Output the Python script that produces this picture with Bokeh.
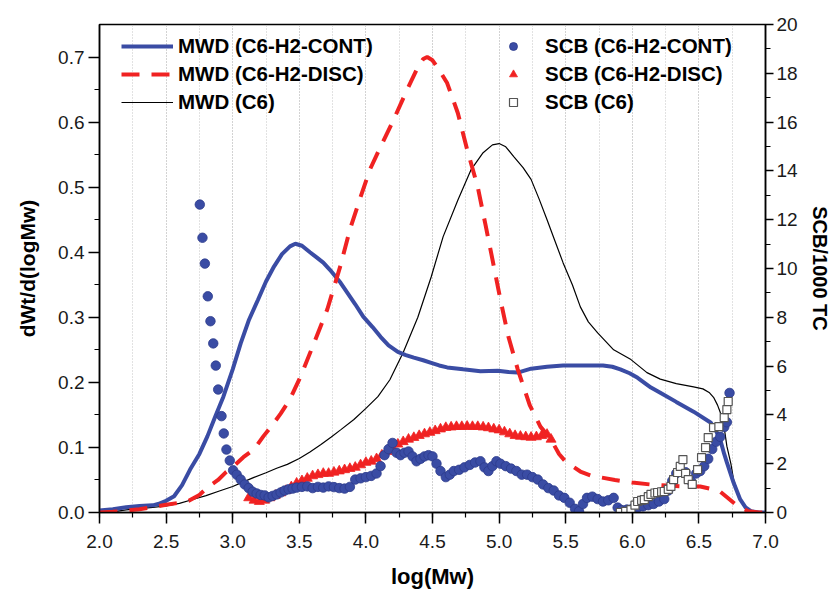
from bokeh.plotting import figure
from bokeh.models import (Range1d, LinearAxis, SingleIntervalTicker, Legend,
                          LegendItem, NumeralTickFormatter)
from bokeh.embed import file_html
from bokeh.resources import INLINE

FONT = "Liberation Sans"

# ---------------- data ----------------
# MWD curves: log(Mw) vs dWt/d(logMw)
mwd_cont_x = [2.0, 2.1, 2.2, 2.3, 2.4, 2.44, 2.5, 2.56, 2.62, 2.68, 2.75, 2.81, 2.87,
              2.93, 3.0, 3.06, 3.12, 3.19, 3.25, 3.31, 3.37, 3.43, 3.47, 3.52, 3.58,
              3.63, 3.68, 3.73, 3.81, 3.86, 3.92, 3.98, 4.05, 4.11, 4.17, 4.24, 4.30,
              4.36, 4.43, 4.49, 4.55, 4.61, 4.73, 4.86, 4.99, 5.07, 5.14, 5.24, 5.36,
              5.48, 5.6, 5.78, 5.85, 5.91, 5.98, 6.04, 6.14, 6.21, 6.33, 6.46, 6.59,
              6.63, 6.66, 6.69, 6.71, 6.76, 6.81, 6.85, 6.89, 6.95, 7.0]
mwd_cont_y = [0.003, 0.005, 0.008, 0.010, 0.011, 0.013, 0.018, 0.025, 0.042, 0.066, 0.090,
              0.117, 0.148, 0.178, 0.220, 0.260, 0.295, 0.327, 0.355, 0.378, 0.397, 0.409,
              0.413, 0.410, 0.400, 0.392, 0.384, 0.373, 0.353, 0.338, 0.320, 0.301, 0.285,
              0.270, 0.257, 0.247, 0.242, 0.238, 0.234, 0.230, 0.226, 0.223, 0.220, 0.217,
              0.218, 0.216, 0.215, 0.221, 0.224, 0.226, 0.226, 0.226, 0.224, 0.220, 0.214,
              0.207, 0.192, 0.184, 0.170, 0.155, 0.138, 0.125, 0.112, 0.090, 0.077, 0.046,
              0.020, 0.008, 0.002, 0.0, 0.0]

mwd_disc_x = [2.0, 2.1, 2.2, 2.3, 2.4, 2.5, 2.6, 2.67, 2.75, 2.82, 2.89, 2.95, 3.0, 3.08,
              3.16, 3.23, 3.3, 3.36, 3.43, 3.51, 3.6, 3.71, 3.81, 3.88, 3.96, 4.03, 4.11,
              4.20, 4.31, 4.38, 4.43, 4.46, 4.50, 4.55, 4.61, 4.69, 4.76, 4.84, 4.90, 4.95,
              5.01, 5.07, 5.14, 5.23, 5.31, 5.39, 5.45, 5.5, 5.61, 5.7, 5.76, 5.87, 6.0,
              6.14, 6.3, 6.41, 6.51, 6.6, 6.66, 6.72, 6.79, 6.87, 6.95, 7.0]
mwd_disc_y = [0.0, 0.001, 0.003, 0.005, 0.008, 0.012, 0.015, 0.018, 0.027, 0.040, 0.050,
              0.062, 0.070, 0.085, 0.097, 0.117, 0.135, 0.152, 0.174, 0.209, 0.255, 0.312,
              0.380, 0.435, 0.485, 0.527, 0.562, 0.600, 0.650, 0.680, 0.697, 0.700, 0.695,
              0.680, 0.660, 0.614, 0.558, 0.500, 0.440, 0.389, 0.327, 0.270, 0.220, 0.165,
              0.132, 0.112, 0.090, 0.078, 0.063, 0.056, 0.054, 0.050, 0.046, 0.043, 0.041,
              0.040, 0.040, 0.036, 0.032, 0.022, 0.010, 0.002, 0.0, 0.0]

mwd_c6_x = [2.0, 2.1, 2.2, 2.3, 2.4, 2.5, 2.6, 2.7, 2.8, 2.9, 3.0, 3.08, 3.16, 3.25, 3.33,
            3.41, 3.5, 3.58, 3.66, 3.74, 3.81, 3.91, 4.0, 4.09, 4.18, 4.28, 4.39, 4.49,
            4.58, 4.69, 4.79, 4.88, 4.95, 5.0, 5.05, 5.11, 5.18, 5.24, 5.30, 5.36, 5.42,
            5.48, 5.55, 5.61, 5.67, 5.74, 5.80, 5.86, 5.93, 5.99, 6.05, 6.11, 6.21, 6.33,
            6.46, 6.53, 6.58, 6.61, 6.64, 6.66, 6.69, 6.71, 6.74, 6.76, 6.81, 6.85, 6.89,
            6.95, 7.0]
mwd_c6_y = [0.0, 0.001, 0.004, 0.006, 0.008, 0.010, 0.014, 0.020, 0.026, 0.033, 0.040,
            0.047, 0.054, 0.061, 0.068, 0.074, 0.083, 0.093, 0.104, 0.116, 0.127, 0.143,
            0.160, 0.178, 0.204, 0.246, 0.300, 0.362, 0.424, 0.480, 0.527, 0.553, 0.565,
            0.567, 0.562, 0.547, 0.530, 0.512, 0.482, 0.450, 0.417, 0.384, 0.350, 0.316,
            0.293, 0.276, 0.263, 0.250, 0.242, 0.235, 0.225, 0.215, 0.205, 0.198, 0.193,
            0.190, 0.184, 0.177, 0.165, 0.154, 0.130, 0.102, 0.075, 0.051, 0.020, 0.008,
            0.002, 0.0, 0.0]

# SCB series: log(Mw) vs SCB/1000 TC
scb_cont_x = [2.753, 2.773, 2.791, 2.813, 2.833, 2.854, 2.873, 2.891, 2.916, 2.933, 2.953,
              2.978, 3.003, 3.03, 3.06, 3.09, 3.12, 3.15, 3.18, 3.21, 3.24, 3.27, 3.30,
              3.33, 3.36, 3.39, 3.42, 3.45, 3.48, 3.52, 3.56, 3.60, 3.64, 3.68, 3.72, 3.76,
              3.80, 3.84, 3.88, 3.92, 3.96, 4.00, 4.04, 4.08, 4.11, 4.14, 4.17, 4.20, 4.23,
              4.26, 4.29, 4.32, 4.35, 4.38, 4.41, 4.44, 4.47, 4.50, 4.53, 4.56, 4.60, 4.63,
              4.66, 4.70, 4.74, 4.78, 4.82, 4.86, 4.89, 4.92, 4.95, 4.98, 5.01, 5.05, 5.09,
              5.13, 5.17, 5.21, 5.25, 5.29, 5.33, 5.37, 5.41, 5.45, 5.49, 5.53, 5.57, 5.60,
              5.63, 5.66, 5.70, 5.74, 5.78, 5.82, 5.86, 5.89, 5.92, 5.96, 6.00, 6.04, 6.08,
              6.12, 6.16, 6.20, 6.24, 6.27, 6.30, 6.33, 6.36, 6.40, 6.44, 6.48, 6.51, 6.54,
              6.57, 6.60, 6.63, 6.66, 6.69, 6.71, 6.73]
scb_cont_y = [12.62, 11.26, 10.2, 8.86, 7.84, 6.93, 6.02, 5.04, 3.95, 3.24, 2.58, 2.13,
              1.73, 1.55, 1.35, 1.15, 1.0, 0.85, 0.78, 0.72, 0.70, 0.62, 0.68, 0.74, 0.82,
              0.90, 0.95, 0.98, 1.02, 1.05, 1.07, 1.00, 1.05, 1.02, 1.07, 1.04, 1.00, 0.98,
              1.05, 1.35, 1.40, 1.45, 1.50, 1.60, 1.90, 2.35, 2.60, 2.85, 2.45, 2.35, 2.45,
              2.50, 2.30, 2.10, 2.20, 2.30, 2.35, 2.30, 2.00, 1.70, 1.45, 1.55, 1.70, 1.75,
              1.85, 1.95, 2.05, 2.10, 1.85, 1.70, 1.90, 2.10, 2.00, 1.90, 1.80, 1.70, 1.55,
              1.55, 1.45, 1.35, 1.15, 1.00, 0.90, 0.70, 0.60, 0.40, 0.15, 0.05, 0.35, 0.60,
              0.65, 0.55, 0.45, 0.50, 0.60, 0.20, 0.10, 0.12, 0.15, 0.20, 0.25, 0.30, 0.35,
              0.45, 0.55, 0.90, 1.30, 1.60, 1.70, 1.65, 1.30, 1.60, 1.70, 1.90, 2.20, 2.60,
              2.90, 3.10, 3.50, 3.70, 4.90]

scb_disc_x = [3.12, 3.16, 3.20, 3.24, 3.28, 3.32, 3.36, 3.40, 3.44, 3.48, 3.52, 3.56, 3.60,
              3.64, 3.68, 3.72, 3.76, 3.80, 3.84, 3.88, 3.92, 3.96, 4.00, 4.04, 4.08, 4.12,
              4.16, 4.20, 4.24, 4.28, 4.32, 4.36, 4.40, 4.44, 4.48, 4.52, 4.56, 4.60, 4.64,
              4.68, 4.72, 4.76, 4.80, 4.84, 4.88, 4.92, 4.96, 5.00, 5.04, 5.08, 5.12, 5.16,
              5.20, 5.24, 5.28, 5.32, 5.36, 5.39]
scb_disc_y = [0.60, 0.50, 0.45, 0.50, 0.60, 0.70, 0.80, 0.90, 1.05, 1.20, 1.30, 1.40, 1.50,
              1.55, 1.60, 1.60, 1.65, 1.70, 1.75, 1.80, 1.85, 1.95, 2.05, 2.10, 2.20, 2.35,
              2.50, 2.65, 2.80, 2.90, 3.00, 3.07, 3.15, 3.22, 3.28, 3.35, 3.42, 3.48, 3.50,
              3.52, 3.52, 3.53, 3.52, 3.52, 3.50, 3.47, 3.42, 3.38, 3.30, 3.22, 3.15, 3.12,
              3.10, 3.08, 3.10, 3.15, 3.20, 3.00]

scb_c6_x = [5.91, 5.95, 5.99, 6.02, 6.04, 6.07, 6.09, 6.12, 6.14, 6.17, 6.19, 6.22, 6.24,
            6.27, 6.29, 6.31, 6.34, 6.36, 6.38, 6.40, 6.42, 6.45, 6.49, 6.52, 6.55, 6.57,
            6.61, 6.65, 6.69, 6.71, 6.72]
scb_c6_y = [0.0, 0.05, 0.12, 0.30, 0.45, 0.50, 0.53, 0.65, 0.74, 0.80, 0.82, 0.85, 0.86,
            0.95, 1.07, 1.35, 1.64, 1.89, 2.17, 1.60, 1.35, 1.15, 1.76, 2.25, 2.66, 3.07,
            3.48, 3.52, 3.89, 4.22, 4.55]

labels_mwd = ["MWD (C6-H2-CONT)", "MWD (C6-H2-DISC)", "MWD (C6)"]
labels_scb = ["SCB (C6-H2-CONT)", "SCB (C6-H2-DISC)", "SCB (C6)"]

# ---------------- styling ----------------
BLUE = "#3a4ca4"
RED = "#f02222"
GRID = "#c4c4c4"

p = figure(width=835, height=593, output_backend="svg", toolbar_location=None,
           x_range=Range1d(2.0, 7.0), y_range=Range1d(0.0, 0.75),
           min_border_left=99, min_border_right=70, min_border_top=24,
           min_border_bottom=81)
p.extra_y_ranges = {"scb": Range1d(0, 20)}
p.outline_line_color = "black"
p.outline_line_width = 1.5
p.background_fill_color = "white"
p.border_fill_color = "white"

xa = p.xaxis[0]
ly = p.yaxis[0]

xt = SingleIntervalTicker(interval=0.5, num_minor_ticks=2)
xa.ticker = xt
p.xgrid.ticker = xt
p.xgrid.grid_line_color = GRID
p.xgrid.grid_line_dash = "1 2"
p.xgrid.minor_grid_line_color = GRID
p.xgrid.minor_grid_line_dash = "1 2"
p.ygrid.grid_line_color = None

ly.ticker = SingleIntervalTicker(interval=0.1, num_minor_ticks=2)
xa.formatter = NumeralTickFormatter(format="0.0")
ly.formatter = NumeralTickFormatter(format="0.0")

ra = LinearAxis(y_range_name="scb",
                ticker=SingleIntervalTicker(interval=2, num_minor_ticks=2),
                axis_label="SCB/1000 TC")
p.add_layout(ra, "right")

xa.axis_label = "log(Mw)"
ly.axis_label = "dWt/d(logMw)"

for ax in [xa, ly, ra]:
    ax.axis_line_color = "black"
    ax.axis_line_width = 1.5
    ax.major_tick_line_color = "black"
    ax.major_tick_line_width = 1.5
    ax.minor_tick_line_color = "black"
    ax.minor_tick_line_width = 1.2
    ax.major_tick_in = 0
    ax.minor_tick_in = 0
    ax.major_tick_out = 11
    ax.minor_tick_out = 5
    ax.major_label_text_font = FONT
    ax.major_label_text_font_size = "19px"
    ax.major_label_text_color = "#1a1a1a"
    ax.axis_label_text_font = FONT
    ax.axis_label_text_font_style = "bold"
    ax.axis_label_text_color = "black"

xa.major_label_standoff = 11
xa.axis_label_text_font_size = "22px"
xa.axis_label_standoff = 13
ly.major_label_standoff = 4
ly.axis_label_text_font_size = "21px"
ly.axis_label_standoff = 16
ra.major_tick_out = 8
ra.major_label_standoff = 3
ra.axis_label_text_font_size = "20px"
ra.axis_label_standoff = 8

# ---------------- glyphs ----------------
r_c6 = p.line(mwd_c6_x, mwd_c6_y, line_color="black", line_width=1.2)
r_cont = p.line(mwd_cont_x, mwd_cont_y, line_color=BLUE, line_width=4)
r_disc = p.line(mwd_disc_x, mwd_disc_y, line_color=RED, line_width=4,
                line_dash="18 12")

s_disc = p.scatter(scb_disc_x, scb_disc_y, y_range_name="scb", marker="triangle",
                   size=10, fill_color=RED, line_color=RED, line_width=0.8)
s_cont = p.scatter(scb_cont_x, scb_cont_y, y_range_name="scb", marker="circle",
                   size=9.5, fill_color=BLUE, line_color="#2c3b8c", line_width=0.8)
s_c6 = p.scatter(scb_c6_x, scb_c6_y, y_range_name="scb", marker="square",
                 size=8, fill_color="white", line_color="#555555", line_width=1.2)


def make_legend(items, loc, gw, standoff):
    return Legend(items=items, location=loc, orientation="vertical",
                  glyph_width=gw, glyph_height=22, label_height=22, spacing=4,
                  padding=0, margin=0, label_standoff=standoff,
                  border_line_alpha=0, background_fill_alpha=0,
                  label_text_font=FONT, label_text_font_style="bold",
                  label_text_font_size="20.5px", label_text_color="black")


leg1 = make_legend([LegendItem(label=labels_mwd[0], renderers=[r_cont]),
                    LegendItem(label=labels_mwd[1], renderers=[r_disc]),
                    LegendItem(label=labels_mwd[2], renderers=[r_c6])],
                   (22, 398), 52, 5)
leg2 = make_legend([LegendItem(label=labels_scb[0], renderers=[s_cont]),
                    LegendItem(label=labels_scb[1], renderers=[s_disc]),
                    LegendItem(label=labels_scb[2], renderers=[s_c6])],
                   (404, 398), 20, 22)
p.add_layout(leg1, "center")
p.add_layout(leg2, "center")

open("out.html", "w").write(file_html(p, INLINE))
